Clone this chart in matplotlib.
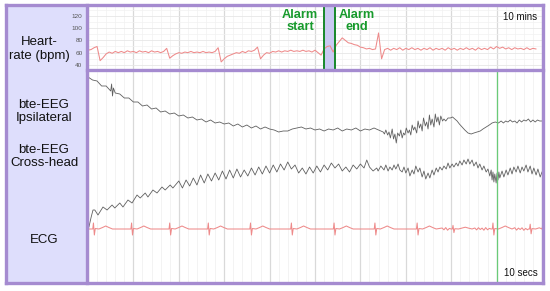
import numpy as np
import matplotlib
matplotlib.use("Agg")
import matplotlib.pyplot as plt
from matplotlib.lines import Line2D

# ---------------- data ----------------
# Heart rate (bpm), one reading every 4 s (1/15 min), over the 10-minute window
hr_bpm = [64, 65, 68, 70, 47, 52, 58, 61, 59, 62,
          60, 62, 60, 63, 61, 62, 60, 63, 61, 62,
          60, 63, 61, 62, 60, 62, 67, 51, 55, 58,
          60, 59, 61, 60, 62, 60, 61, 60, 62, 60,
          61, 60, 62, 68, 45, 50, 54, 56, 58, 60,
          59, 62, 60, 63, 62, 64, 69, 50, 56, 60,
          59, 62, 61, 63, 61, 63, 62, 64, 62, 63,
          62, 64, 62, 63, 61,
          64, 60, 56, 66, 70, 71, 61, 72, 78, 84,
          80, 76, 75, 73, 72, 69, 68, 66, 67, 65,
          66, 92, 50, 65,
          67, 64, 67, 65, 68, 64, 67, 65, 68, 65,
          67, 64, 67, 65, 68, 64, 67, 65, 67, 64,
          68, 65, 67, 64, 67, 65, 68, 65, 67, 64,
          68, 65, 67, 65, 69, 66, 70, 67, 69, 66,
          68, 65, 68, 66, 67, 65, 68, 65, 67, 66]
hr_ticks = [40, 60, 80, 100, 120]
alarm_start_min = 5.20
alarm_end_min = 5.43

# bte-EEG ipsilateral: (time s, level)
ipsi_pts = [
    (0.0, 208), (0.1, 205), (0.2, 204), (0.3, 199), (0.4, 199), (0.5, 194),
    (0.52, 201), (0.54, 189), (0.56, 197), (0.6, 192), (0.7, 191), (0.8, 187),
    (0.9, 187), (1.0, 183), (1.1, 183), (1.2, 179), (1.3, 180), (1.4, 176),
    (1.5, 177), (1.6, 173), (1.7, 174), (1.8, 171), (1.9, 172), (2.0, 169),
    (2.1, 170), (2.2, 167), (2.3, 168), (2.4, 165), (2.5, 166), (2.6, 163),
    (2.7, 165), (2.8, 162), (2.9, 163), (3.0, 161), (3.1, 162), (3.2, 159),
    (3.3, 161), (3.4, 158), (3.5, 160), (3.6, 157), (3.7, 159), (3.8, 156),
    (3.9, 158), (4.0, 156), (4.1, 155), (4.2, 153), (4.3, 154), (4.4, 154),
    (4.5, 156), (4.6, 157), (4.7, 158), (4.8, 156), (4.9, 157), (5.0, 155),
    (5.1, 156), (5.2, 154), (5.3, 156), (5.4, 155), (5.5, 157), (5.6, 154),
    (5.7, 156), (5.8, 155), (5.9, 157), (6.0, 154), (6.1, 156), (6.2, 155),
    (6.3, 157), (6.4, 155), (6.5, 153),
    (6.53, 151), (6.56, 155), (6.6, 150), (6.63, 153), (6.66, 147), (6.7, 156),
    (6.73, 146), (6.76, 151), (6.79, 142), (6.82, 152), (6.86, 149), (6.89, 155),
    (6.92, 147), (6.95, 152), (6.98, 150), (7.01, 157), (7.05, 152), (7.08, 155),
    (7.11, 150), (7.14, 160), (7.17, 155), (7.2, 158), (7.24, 152), (7.27, 164),
    (7.3, 157), (7.33, 161), (7.36, 154), (7.39, 167), (7.43, 159), (7.46, 163),
    (7.49, 156), (7.52, 170), (7.55, 160), (7.58, 166), (7.62, 158), (7.65, 171),
    (7.68, 163), (7.71, 168), (7.74, 160), (7.77, 169), (7.81, 164), (7.84, 166),
    (7.88, 164), (7.93, 167), (7.98, 167), (8.03, 168), (8.08, 166), (8.13, 164),
    (8.18, 161), (8.24, 158), (8.3, 155), (8.37, 152), (8.44, 151), (8.5, 152),
    (8.57, 153), (8.64, 154), (8.7, 156), (8.77, 158), (8.84, 160), (8.9, 162),
    (8.97, 163), (9.04, 162), (9.1, 164), (9.15, 162), (9.2, 164), (9.25, 163),
    (9.3, 165), (9.35, 163), (9.4, 164), (9.45, 162), (9.5, 165), (9.55, 163),
    (9.6, 165), (9.65, 164), (9.7, 166), (9.75, 163), (9.8, 165), (9.85, 163),
    (9.9, 165), (9.95, 164), (10.0, 164)]

# bte-EEG cross-head: (time s, level)
cross_pts = [
    (0.02, 58), (0.07, 68), (0.11, 75), (0.15, 75), (0.22, 70), (0.33, 78),
    (0.42, 75), (0.53, 80), (0.59, 77), (0.70, 82), (0.77, 78), (0.88, 85),
    (0.97, 82), (1.08, 90), (1.15, 87), (1.26, 92), (1.32, 88), (1.43, 95),
    (1.52, 92), (1.63, 98), (1.70, 95), (1.81, 100), (1.87, 97),
    (2.00, 104), (2.08, 97), (2.16, 105), (2.24, 99), (2.32, 107), (2.40, 100),
    (2.48, 110), (2.56, 102), (2.64, 111), (2.72, 104), (2.80, 112), (2.88, 105),
    (2.96, 114), (3.04, 106), (3.12, 115), (3.20, 107), (3.28, 116), (3.36, 108),
    (3.44, 115), (3.52, 109), (3.60, 117), (3.68, 110), (3.76, 118), (3.84, 111),
    (3.92, 119), (4.00, 112), (4.08, 120), (4.16, 113), (4.24, 121), (4.32, 115),
    (4.40, 123), (4.48, 116), (4.56, 120), (4.64, 112), (4.72, 117), (4.80, 111),
    (4.88, 118), (4.96, 112), (5.04, 119), (5.12, 113), (5.20, 120), (5.28, 115),
    (5.36, 122), (5.44, 117), (5.52, 121), (5.60, 114), (5.68, 118), (5.76, 113),
    (5.84, 120), (5.92, 116), (6.00, 121), (6.08, 117), (6.14, 125), (6.20, 118),
    (6.28, 114), (6.36, 117), (6.39, 114), (6.45, 119), (6.52, 115), (6.56, 120),
    (6.61, 114), (6.65, 118), (6.70, 115), (6.74, 120), (6.78, 116), (6.83, 121),
    (6.87, 115), (6.92, 113), (6.96, 118), (7.00, 112), (7.05, 117), (7.09, 109),
    (7.14, 115), (7.18, 111), (7.22, 119), (7.27, 113), (7.31, 117), (7.36, 108),
    (7.40, 114), (7.44, 106), (7.49, 112), (7.53, 107), (7.58, 115), (7.62, 110),
    (7.67, 117), (7.71, 113), (7.75, 118), (7.80, 115), (7.84, 119), (7.89, 116),
    (7.93, 122), (7.97, 117), (8.02, 121), (8.06, 118), (8.11, 122), (8.15, 119),
    (8.19, 124), (8.24, 120), (8.28, 125), (8.33, 121), (8.37, 126), (8.41, 121),
    (8.46, 125), (8.50, 119), (8.55, 123), (8.59, 117), (8.63, 121), (8.68, 115),
    (8.72, 119), (8.77, 113), (8.81, 116), (8.85, 109), (8.88, 115), (8.90, 105),
    (8.92, 113), (8.94, 103), (8.96, 111), (8.99, 102), (9.01, 112), (9.03, 105),
    (9.05, 113), (9.07, 107), (9.12, 114), (9.16, 108), (9.21, 115), (9.25, 110),
    (9.30, 117), (9.34, 111), (9.38, 118), (9.43, 113), (9.47, 119), (9.52, 112),
    (9.56, 118), (9.60, 114), (9.65, 120), (9.69, 113), (9.74, 119), (9.78, 111),
    (9.82, 117), (9.87, 110), (9.91, 116), (9.96, 108), (10.0, 113)]

# ECG: beat times (s), one-beat waveform (relative time s, deflection), per-beat R size
ecg_baseline = 56
ecg_beats = [0.12, 0.96, 1.80, 2.65, 3.58, 4.48, 5.42, 6.32, 7.25, 8.04, 8.92, 9.74]
ecg_beat_amp = [1.0, 1.0, 1.0, 1.0, 1.0, 1.0, 1.0, 1.0, 1.0, 0.6, 1.0, 0.8]
ecg_wave_t = [-0.04, -0.015, 0.0, 0.02, 0.04, 0.12, 0.20, 0.27, 0.34, 0.42]
ecg_wave_v = [0.0, 0.0, 6.0, -6.0, 0.5, 0.0, 1.5, 3.0, 1.5, 0.0]
# muscle noise on the ECG in the last seconds (every 0.04 s from 7.8 s)
ecg_noise = [1.0, -0.8, 1.4, -1.2, 0.6, -1.5, 1.1, -0.4, 1.6, -1.0,
             0.8, -1.3, 1.2, -0.6, 1.5, -1.1, 0.7, -1.4, 1.0, -0.9,
             1.3, -0.5, 0.9, -1.2, 1.4, -0.8, 0.6, -1.3, 1.1, -0.7,
             1.5, -1.0, 0.8, -1.2, 1.2, -0.6, 1.0, -1.4, 0.7, -0.9,
             1.3, -1.1, 0.9, -0.5, 1.2, -1.3, 0.6, -0.8, 1.4, -1.0,
             1.0, -0.7, 1.1, -1.2, 0.8, -0.9]
marker_sec = 9.01

# ---------------- style ----------------
W, H = 550, 291
PURPLE = "#a58bd0"
LAV = "#dedefc"
GREEN = "#179a2c"
DKGREEN = "#17882a"
PINK = "#ee8a8a"
TRACE = "#606060"

plt.rcParams["font.family"] = ["Liberation Sans", "DejaVu Sans"]
fig = plt.figure(figsize=(W / 100, H / 100), dpi=100)


def box(x0, y0, x1, y1):
    return [x0 / W, 1 - y1 / H, (x1 - x0) / W, (y1 - y0) / H]


def clean(ax):
    for s in ax.spines.values():
        s.set_visible(False)
    ax.tick_params(length=0)


# label panel (pixel-like coordinates inside the panel)
ax_lab = fig.add_axes(box(6, 5, 87, 284))
ax_lab.set_facecolor(LAV)
clean(ax_lab)
ax_lab.set_xticks([])
ax_lab.set_yticks([])
ax_lab.set_xlim(6, 87)
ax_lab.set_ylim(284, 5)
lab_kw = dict(ha="center", va="center", fontsize=9.5, color="#111111", linespacing=1.15)
ax_lab.text(39, 49, "Heart-\nrate (bpm)", **lab_kw)
ax_lab.text(44, 111.5, "bte-EEG\nIpsilateral", **lab_kw)
ax_lab.text(44, 156.5, "bte-EEG\nCross-head", **lab_kw)
ax_lab.text(44, 240, "ECG", **lab_kw)

# heart-rate panel
ax_hr = fig.add_axes(box(88, 6.5, 542, 68.5))
clean(ax_hr)
hr_t = np.arange(len(hr_bpm)) / 15.0
ax_hr.set_xlim(0, 10)
ax_hr.set_ylim(34.3, 134.9)
ax_hr.set_xticks(np.arange(0, 11, 1))
ax_hr.set_xticks(np.arange(0, 10.01, 0.2), minor=True)
ax_hr.set_xticklabels([])
ax_hr.set_yticks(hr_ticks)
ax_hr.set_yticks([50, 70, 90, 110, 130], minor=True)
ax_hr.set_yticklabels([str(v) for v in hr_ticks], fontsize=4.6, color="#555555")
ax_hr.tick_params(axis="y", which="both", length=0, pad=4)
ax_hr.tick_params(axis="x", which="both", length=0)
ax_hr.grid(which="major", axis="x", color="#d9d9d9", lw=0.9)
ax_hr.grid(which="major", axis="y", color="#e6e6e6", lw=0.6)
ax_hr.grid(which="minor", axis="both", color="#f1f1f1", lw=0.5)
ax_hr.set_axisbelow(True)
ax_hr.axvspan(alarm_start_min, alarm_end_min, color="#c9c9f2", lw=0, zorder=1)
ax_hr.plot(hr_t, hr_bpm, color=PINK, lw=0.75, zorder=2)
for xa in (alarm_start_min, alarm_end_min):
    ax_hr.axvline(xa, color=DKGREEN, lw=1.4, zorder=3)
txt_kw = dict(ha="center", va="center", fontsize=9.2, fontweight="bold", color=GREEN, linespacing=1.0)
ax_hr.text(4.67, 111.0, "Alarm\nstart", **txt_kw)
ax_hr.text(5.93, 111.0, "Alarm\nend", **txt_kw)
ax_hr.text(0.989, 0.83, "10 mins", transform=ax_hr.transAxes, ha="right", va="center",
           fontsize=7, color="#111111")

# EEG / ECG panel
ax_e = fig.add_axes(box(88, 71.5, 542, 282.5))
clean(ax_e)
ax_e.set_xlim(0, 10)
ax_e.set_ylim(2.5, 213.5)
ax_e.set_xticks(np.arange(0, 11, 1))
ax_e.set_xticks(np.arange(0, 10.01, 0.2), minor=True)
ax_e.set_xticklabels([])
ax_e.set_yticks([])
ax_e.tick_params(which="both", length=0)
ax_e.grid(which="major", axis="x", color="#d9d9d9", lw=0.9)
ax_e.grid(which="minor", axis="x", color="#efefef", lw=0.5)
ax_e.set_axisbelow(True)

it, iv = np.array(ipsi_pts).T
ax_e.plot(it, iv, color=TRACE, lw=0.6, zorder=2)
ct, cv = np.array(cross_pts).T
ax_e.plot(ct, cv, color=TRACE, lw=0.6, zorder=2)

# ECG assembled from beats + noise samples
pts = [(0.0, ecg_baseline)]
for b, a in zip(ecg_beats, ecg_beat_amp):
    for wt, wv in zip(ecg_wave_t, ecg_wave_v):
        pts.append((b + wt, ecg_baseline + a * wv))
nt = 7.8 + 0.04 * np.arange(len(ecg_noise))
for t, n in zip(nt, ecg_noise):
    if all(not (-0.05 <= t - b <= 0.45) for b in ecg_beats):
        pts.append((t, ecg_baseline + n))
pts.append((10.0, ecg_baseline))
pts.sort()
et, ev = np.array(pts).T
ax_e.plot(et, ev, color=PINK, lw=0.75, zorder=2)

ax_e.axvline(marker_sec, color="#6acb78", lw=0.9, zorder=3)
ax_e.text(0.991, 0.047, "10 secs", transform=ax_e.transAxes, ha="right", va="center",
          fontsize=7, color="#111111")

# purple frame
lw_b = 2.4
frame = [((6.2, 5.3), (543.4, 5.3)), ((543.4, 5.3), (543.4, 283.4)),
         ((543.4, 283.4), (6.2, 283.4)), ((6.2, 283.4), (6.2, 5.3)),
         ((86.7, 5.3), (86.7, 283.4)), ((86.7, 70.0), (543.4, 70.0))]
for (x0, y0), (x1, y1) in frame:
    fig.add_artist(Line2D([x0 / W, x1 / W], [1 - y0 / H, 1 - y1 / H],
                          transform=fig.transFigure, color=PURPLE, lw=lw_b,
                          solid_capstyle="projecting"))

fig.savefig("out.png", dpi=100)
